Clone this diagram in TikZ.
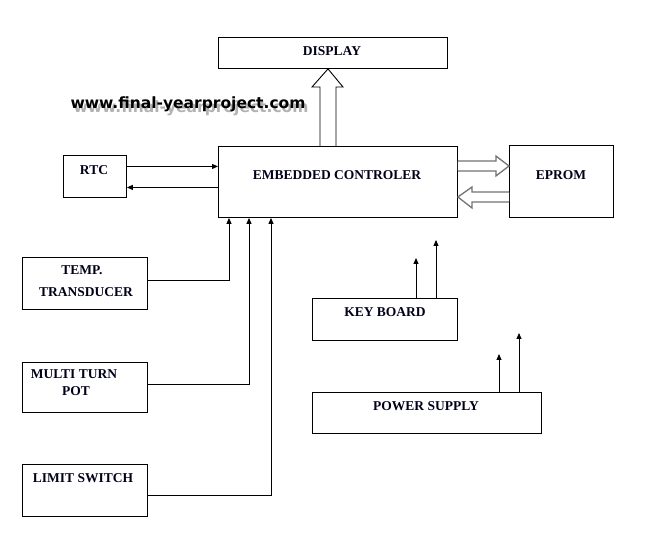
\documentclass[tikz,border=0pt]{standalone}
\usepackage{fontspec}
\setmainfont{Liberation Serif}
\newfontfamily\wmfont{DejaVu Sans}
\usetikzlibrary{calc,arrows.meta}
\begin{document}
\begin{tikzpicture}[x=1pt,y=-1pt,
  box/.style={draw, line width=0.9pt, inner sep=0pt, anchor=north west},
  lbl/.style={font=\fontsize{13.5}{15}\selectfont\bfseries, inner sep=0pt, text=black!90!blue},
  conn/.style={line width=0.9pt, -{Triangle[length=6pt,width=5pt]}},
  hollow/.style={draw=black!55, line width=1.3pt, fill=white, line join=miter},
  hollowb/.style={draw=black, line width=0.9pt, fill=white, line join=miter},
  wm/.style={font=\wmfont\bfseries\fontsize{15.5}{17}\selectfont, inner sep=0pt}]
\useasboundingbox (0,0) rectangle (646,537);
\fill[white] (0,0) rectangle (646,537);

% boxes
\node[box, minimum width=229pt, minimum height=31pt] (disp) at (218,37) {};
\node[box, minimum width=239pt, minimum height=71pt] (ctrl) at (218,146) {};
\node[box, minimum width=63pt, minimum height=42pt] (rtc) at (63,155) {};
\node[box, minimum width=104pt, minimum height=72pt] (eprom) at (509,145) {};
\node[box, minimum width=125pt, minimum height=52pt] (temp) at (22,257) {};
\node[box, minimum width=125pt, minimum height=50pt] (multi) at (22,362) {};
\node[box, minimum width=125pt, minimum height=52pt] (limit) at (22,464) {};
\node[box, minimum width=145pt, minimum height=42pt] (key) at (312,298) {};
\node[box, minimum width=229pt, minimum height=41pt] (power) at (312,392) {};

% labels
\node[lbl] (tdisp) at (332,51) {DISPLAY};
\node[lbl] (tctrl) at (337,175) {EMBEDDED CONTROLER};
\node[lbl] (trtc) at (94,170) {RTC};
\node[lbl] (teprom) at (561,175) {EPROM};
\node[lbl] (ttemp1) at (82,270) {TEMP.};
\node[lbl] (ttemp2) at (86,292) {TRANSDUCER};
\node[lbl] (tmulti1) at (74,374) {MULTI TURN};
\node[lbl] (tmulti2) at (76,391) {POT};
\node[lbl] (tlimit) at (83,478) {LIMIT SWITCH};
\node[lbl] (tkey) at (385,312) {KEY BOARD};
\node[lbl] (tpower) at (426,406) {POWER SUPPLY};

% watermark with shadow
\node[wm, text=black, opacity=0.3] (wmshadow) at (191,108) {www.final-yearproject.com};
\node[wm, text=black] (wmk) at (188,104) {www.final-yearproject.com};

% hollow arrow controller -> display
\draw[hollowb] ($(ctrl.north west)+(102,0)$) -- ($(ctrl.north west)+(102,-59)$)
  -- ($(ctrl.north west)+(94,-59)$) -- ($(disp.south west)+(110,0)$)
  -- ($(ctrl.north west)+(125,-59)$) -- ($(ctrl.north west)+(118,-59)$)
  -- ($(ctrl.north west)+(118,0)$);

% hollow arrows controller <-> eprom
\draw[hollow] ($(ctrl.north east)+(0,15)$) -- ($(ctrl.north east)+(38,15)$)
  -- ($(ctrl.north east)+(38,10)$) -- ($(eprom.north west)+(0,21)$)
  -- ($(ctrl.north east)+(38,30)$) -- ($(ctrl.north east)+(38,25)$)
  -- ($(ctrl.north east)+(0,25)$);
\draw[hollow] ($(eprom.north west)+(0,47)$) -- ($(eprom.north west)+(-37,47)$)
  -- ($(eprom.north west)+(-37,42)$) -- ($(ctrl.north east)+(0,51)$)
  -- ($(eprom.north west)+(-37,63)$) -- ($(eprom.north west)+(-37,57)$)
  -- ($(eprom.north west)+(0,57)$);

% RTC <-> controller
\draw[conn] ([yshift=10pt]rtc.east) -- ([yshift=10pt]rtc.east -| ctrl.west);
\draw[conn] ([yshift=-11pt]rtc.east -| ctrl.west) -- ([yshift=-11pt]rtc.east);

% sensors -> controller
\draw[conn] ([yshift=3pt]temp.east) -| ($(ctrl.south west)+(11,0)$);
\draw[conn] ([yshift=3pt]multi.east) -| ($(ctrl.south west)+(31,0)$);
\draw[conn] ([yshift=-5pt]limit.east) -| ($(ctrl.south west)+(53,0)$);

% keyboard and power supply outputs
\coordinate (k1) at ($(key.north west)+(104,-40)$);
\coordinate (k2) at ($(key.north west)+(124,-58)$);
\coordinate (p1) at ($(power.north west)+(187,-38)$);
\coordinate (p2) at ($(power.north west)+(207,-59)$);
\draw[conn] (key.north west -| k1) -- (k1);
\draw[conn] (key.north west -| k2) -- (k2);
\draw[conn] (power.north west -| p1) -- (p1);
\draw[conn] (power.north west -| p2) -- (p2);
\end{tikzpicture}
\end{document}
